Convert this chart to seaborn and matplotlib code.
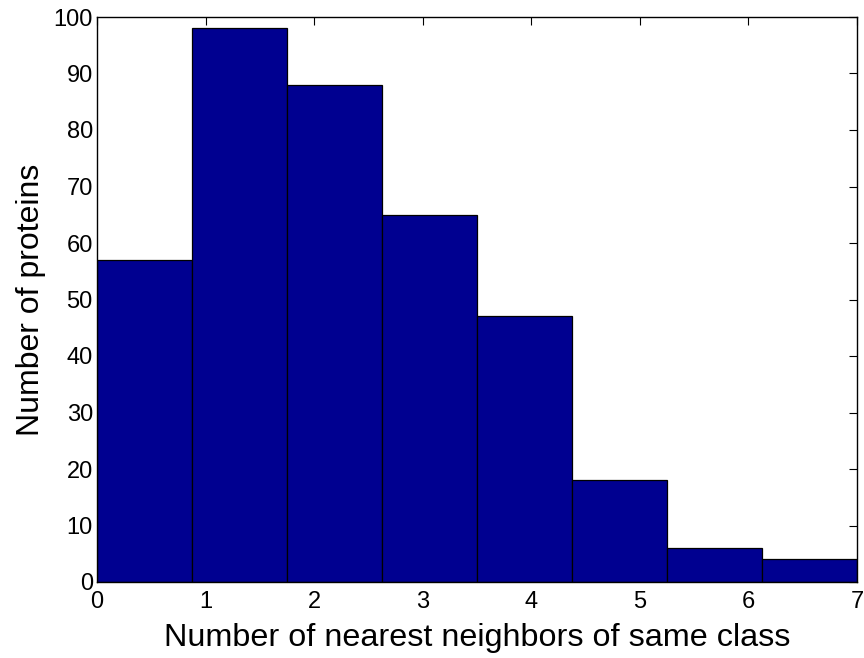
import matplotlib
matplotlib.use("Agg")
import matplotlib.pyplot as plt
import seaborn as sns
import numpy as np

# Number of same-class nearest neighbours (0..7) and how many proteins have each
neighbors = [0, 1, 2, 3, 4, 5, 6, 7]
protein_counts = [57, 98, 88, 65, 47, 18, 6, 4]

x_ticks = [0, 1, 2, 3, 4, 5, 6, 7]
y_ticks = [0, 10, 20, 30, 40, 50, 60, 70, 80, 90, 100]

sns.set_style("white")
plt.rcParams["font.family"] = ["Liberation Sans", "DejaVu Sans"]
plt.rcParams["text.color"] = "black"
plt.rcParams["axes.labelcolor"] = "black"

fig = plt.figure(figsize=(8.64, 6.58), dpi=100)
ax = fig.add_axes([97 / 864, 1 - 582 / 658, 760 / 864, 565 / 658])

sns.histplot(x=neighbors, weights=protein_counts, bins=8, binrange=(0, 7),
             color="#000090", alpha=1.0, edgecolor="black", linewidth=0.9,
             ax=ax)

ax.set_xlim(0, 7)
ax.set_ylim(0, 100)
ax.set_xticks(x_ticks)
ax.set_yticks(y_ticks)
ax.tick_params(direction="in", top=True, right=True, length=6, width=0.8,
               labelsize=17, colors="black")
ax.tick_params(axis="x", pad=6.5)
ax.tick_params(axis="y", pad=3)
for s in ax.spines.values():
    s.set_visible(True)
    s.set_color("black")
    s.set_linewidth(1.0)

ax.set_xlabel("Number of nearest neighbors of same class", fontsize=23.3, labelpad=7)
ax.set_ylabel("Number of proteins", fontsize=23, labelpad=5.5)

fig.savefig("out.png", dpi=100)
